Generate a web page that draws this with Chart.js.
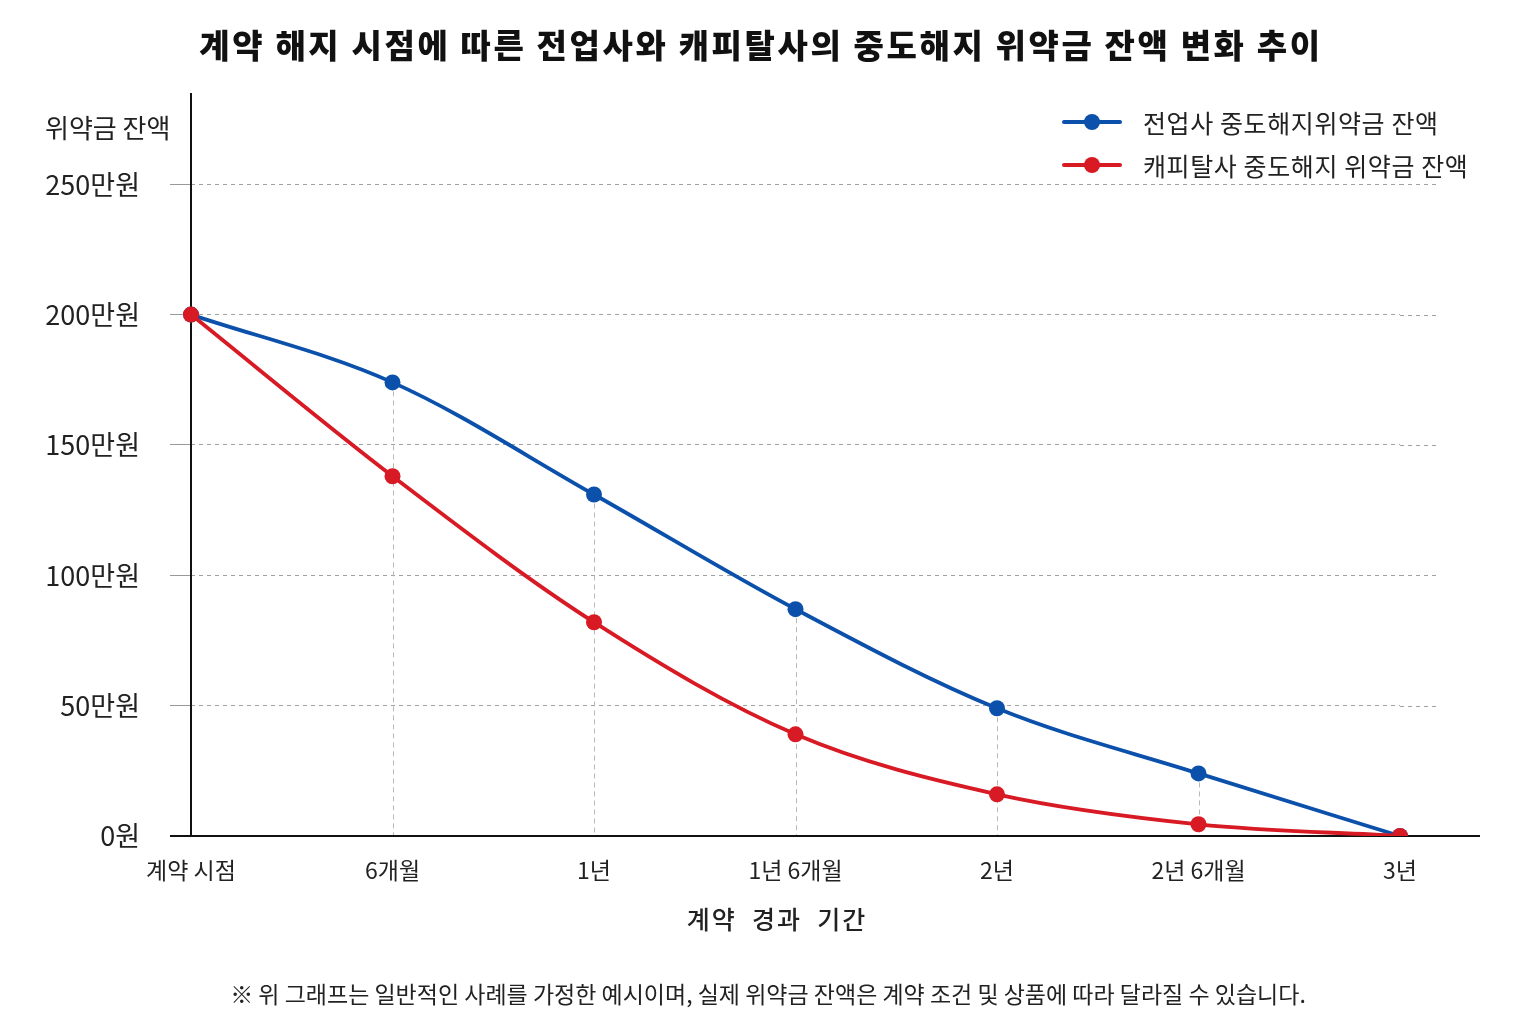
<!DOCTYPE html>
<html><head><meta charset="utf-8">
<script src="https://cdn.jsdelivr.net/npm/chart.js@4.4.1/dist/chart.umd.min.js"></script>
<style>
html,body{margin:0;padding:0;background:#fff;}
body{width:1536px;height:1024px;position:relative;overflow:hidden;font-family:"Noto Sans CJK KR","Noto Sans",sans-serif;color:#111;}
#c{position:absolute;left:0;top:0;}
.title{position:absolute;left:-7px;width:1536px;top:23px;line-height:42px;text-align:center;font-weight:900;font-size:33px;letter-spacing:2.6px;color:#111;}
.ylab{position:absolute;left:45px;top:111px;line-height:32px;font-size:26px;color:#222;}
.xlab{position:absolute;left:577px;width:400px;top:901px;line-height:34px;text-align:center;font-size:25px;font-weight:500;letter-spacing:2px;color:#222;white-space:pre;}
.legend{position:absolute;left:1062px;top:104px;}
.li{position:relative;height:43px;line-height:36px;font-size:25px;letter-spacing:0.6px;color:#222;padding-left:81px;white-space:nowrap;}
.li .ln{position:absolute;left:0;top:16px;width:60px;height:4px;border-radius:2px;}
.li .dt{position:absolute;left:22px;top:10px;width:16px;height:16px;border-radius:50%;}
.foot{position:absolute;left:0;width:1536px;top:977px;line-height:32px;text-align:center;font-size:23px;color:#222;}
</style></head>
<body>
<canvas id="c" width="1536" height="1024"></canvas>
<div class="title" id="title"></div>
<div class="ylab" id="ylab"></div>
<div class="xlab" id="xlab"></div>
<div class="legend" id="legend"></div>
<div class="foot" id="foot"></div>
<script>
const chartTitle = '계약 해지 시점에 따른 전업사와 캐피탈사의 중도해지 위약금 잔액 변화 추이';
const yAxisLabel = '위약금 잔액';
const xAxisLabel = '계약  경과  기간';
const footnote = '※ 위 그래프는 일반적인 사례를 가정한 예시이며, 실제 위약금 잔액은 계약 조건 및 상품에 따라 달라질 수 있습니다.';
const categories = ['계약 시점','6개월','1년','1년 6개월','2년','2년 6개월','3년'];
const specialistValues = [200,174,131,87,49,24,0];
const capitalValues = [200,138,82,39,16,4.5,0];
const seriesNames = ['전업사 중도해지위약금 잔액','캐피탈사 중도해지 위약금 잔액'];
const seriesColors = ['#0b50aa','#d71a24'];
const yTickValues = [0,50,100,150,200,250];
const yTickLabels = ['0원','50만원','100만원','150만원','200만원','250만원'];

document.getElementById('title').textContent = chartTitle;
document.getElementById('ylab').textContent = yAxisLabel;
document.getElementById('xlab').textContent = xAxisLabel;
document.getElementById('foot').textContent = footnote;
const lg = document.getElementById('legend');
seriesNames.forEach((n,i)=>{
  const d = document.createElement('div'); d.className='li';
  d.innerHTML = '<span class="ln" style="background:'+seriesColors[i]+'"></span><span class="dt" style="background:'+seriesColors[i]+'"></span>';
  d.appendChild(document.createTextNode(n));
  lg.appendChild(d);
});

const FONT = '"Noto Sans CJK KR", "Noto Sans", sans-serif';
Chart.defaults.font.family = FONT;

const extras = {
  id:'extras',
  beforeDatasetsDraw(chart){
    const {ctx, chartArea:a, scales:{x,y}} = chart;
    const m0 = chart.getDatasetMeta(0), m1 = chart.getDatasetMeta(1);
    ctx.save();
    ctx.strokeStyle='#b8b8b8'; ctx.lineWidth=1; ctx.setLineDash([5,4]);
    categories.forEach((c,i)=>{
      if(i===0) return;
      const px = Math.round(x.getPixelForValue(i))+0.5;
      const top = Math.min(m0.data[i].y, m1.data[i].y);
      ctx.beginPath(); ctx.moveTo(px, top); ctx.lineTo(px, a.bottom); ctx.stroke();
    });
    ctx.strokeStyle='#a0a0a0'; ctx.setLineDash([4,4]);
    yTickValues.forEach(v=>{
      if(!v) return;
      const py = Math.round(y.getPixelForValue(v))+0.5;
      ctx.beginPath(); ctx.moveTo(a.right, py); ctx.lineTo(a.right+40, py); ctx.stroke();
    });
    ctx.setLineDash([]); ctx.strokeStyle='#111'; ctx.lineWidth=2;
    const y0 = y.getPixelForValue(0);
    ctx.beginPath(); ctx.moveTo(a.left-21, y0); ctx.lineTo(a.right+80, y0); ctx.stroke();
    ctx.beginPath(); ctx.moveTo(a.left, a.top); ctx.lineTo(a.left, y0); ctx.stroke();
    ctx.restore();
  }
};

new Chart(document.getElementById('c'), {
  type:'line',
  data:{
    labels: categories,
    datasets:[
      {label:seriesNames[0], data:specialistValues, borderColor:seriesColors[0], backgroundColor:seriesColors[0],
       borderWidth:3.8, pointRadius:8, pointBorderWidth:0, tension:0.3, cubicInterpolationMode:'monotone', order:2},
      {label:seriesNames[1], data:capitalValues, borderColor:seriesColors[1], backgroundColor:seriesColors[1],
       borderWidth:3.8, pointRadius:8, pointBorderWidth:0, tension:0.3, cubicInterpolationMode:'monotone', order:1}
    ]
  },
  options:{
    responsive:false, animation:false, devicePixelRatio:1,
    layout:{padding:{left:0,right:136,top:93,bottom:68}},
    plugins:{legend:{display:false}, tooltip:{enabled:false}},
    scales:{
      x:{type:'category', offset:false,
         grid:{display:false, drawTicks:false}, border:{display:false},
         ticks:{font:{size:23}, color:'#222', padding:20, maxRotation:0, autoSkip:false},
         afterFit(s){ s.height = 120; }
      },
      y:{min:0, max:285,
         grid:{color:'#a0a0a0', lineWidth:1, tickLength:21, tickColor:'#999'},
         border:{display:false, dash:[4,4]},
         afterBuildTicks(s){ s.ticks = yTickValues.map(v=>({value:v})); },
         ticks:{callback:(v)=>yTickLabels[yTickValues.indexOf(v)], font:{size:27}, color:'#222', padding:30},
         afterFit(s){ s.width = 191; }
      }
    }
  },
  plugins:[extras]
});
</script>
</body></html>
